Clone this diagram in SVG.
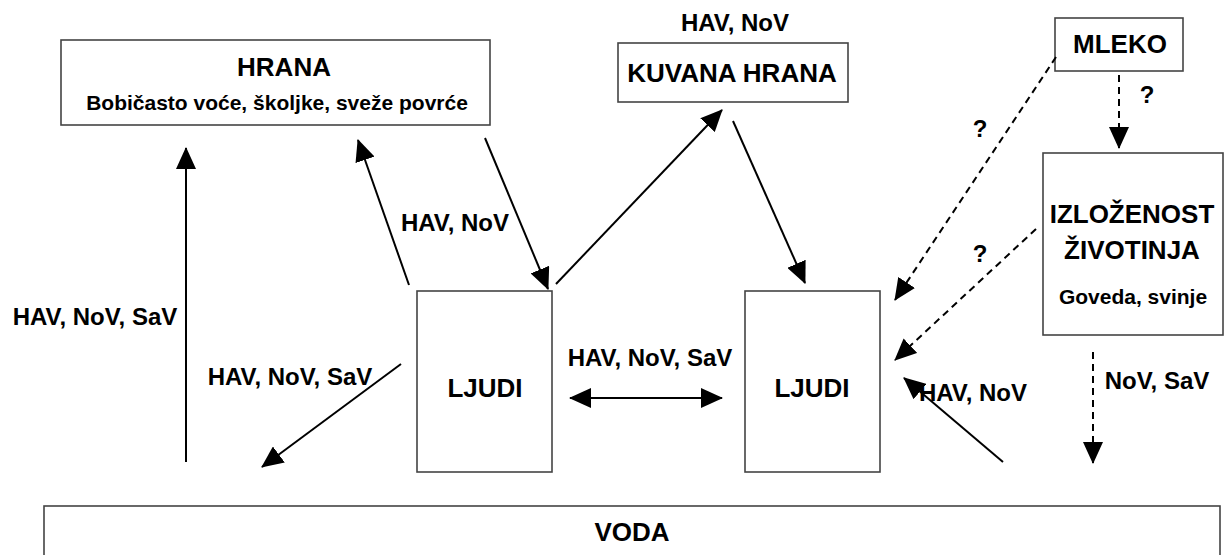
<svg xmlns="http://www.w3.org/2000/svg" width="1224" height="555" viewBox="0 0 1224 555">
<defs>
<marker id="ah" markerUnits="userSpaceOnUse" markerWidth="22" markerHeight="20" viewBox="0 0 22 20" refX="21" refY="10" orient="auto-start-reverse">
<path d="M0,0 L22,10 L0,20 Z" fill="#000"/>
</marker>
<style>
.box{fill:#fff;stroke:#444;stroke-width:1.6}
.t{font-family:"Liberation Sans",Arial,sans-serif;font-weight:bold;fill:#000;text-anchor:middle}
.title{font-size:26px}
.sub{font-size:21px}
.lbl{font-size:24px}
.c{stroke:#000;stroke-width:2;fill:none;marker-end:url(#ah)}
.d{stroke-dasharray:7,5}
</style>
</defs>
<rect width="1224" height="555" fill="#fff"/>
<g id="hrana">
<rect class="box" x="61" y="40" width="429" height="85"/>
<text class="t title" x="284" y="76">HRANA</text>
<text class="t sub" x="277" y="110">Bobičasto voće, školjke, sveže povrće</text>
</g>
<g id="kuvana">
<rect class="box" x="618" y="43" width="230" height="59"/>
<text class="t title" x="732" y="82">KUVANA HRANA</text>
</g>
<g id="mleko">
<rect class="box" x="1055" y="18" width="128" height="53"/>
<text class="t title" x="1120" y="53">MLEKO</text>
</g>
<g id="izlozenost">
<rect class="box" x="1043" y="153" width="180" height="182"/>
<text class="t title" x="1132" y="223">IZLOŽENOST</text>
<text class="t title" x="1132" y="259">ŽIVOTINJA</text>
<text class="t sub" x="1133" y="304">Goveda, svinje</text>
</g>
<g id="ljudi1">
<rect class="box" x="417" y="291" width="135" height="181"/>
<text class="t title" x="485" y="397">LJUDI</text>
</g>
<g id="ljudi2">
<rect class="box" x="745" y="291" width="135" height="181"/>
<text class="t title" x="812" y="397">LJUDI</text>
</g>
<g id="voda">
<rect class="box" x="44" y="506" width="1176" height="60"/>
<text class="t title" x="632" y="541">VODA</text>
</g>
<g id="connectors">
<line class="c" x1="186" y1="462" x2="186" y2="148"/>
<line class="c" x1="409" y1="285" x2="358" y2="140"/>
<line class="c" x1="485" y1="138" x2="548" y2="289"/>
<line class="c" x1="556" y1="284" x2="722" y2="110"/>
<line class="c" x1="733" y1="121" x2="805" y2="283"/>
<line class="c" x1="401" y1="364" x2="262" y2="467"/>
<line class="c" x1="570" y1="398" x2="722" y2="398" style="marker-start:url(#ah)"/>
<line class="c" x1="1003" y1="462" x2="904" y2="378"/>
<line class="c d" x1="1056" y1="57" x2="895" y2="300"/>
<line class="c d" x1="1119" y1="75" x2="1119" y2="148"/>
<line class="c d" x1="1036" y1="229" x2="895" y2="360"/>
<line class="c d" x1="1093" y1="352" x2="1093" y2="463"/>
<text class="t lbl" x="735" y="31">HAV, NoV</text>
<text class="t lbl" x="455" y="231">HAV, NoV</text>
<text class="t lbl" x="95" y="325">HAV, NoV, SaV</text>
<text class="t lbl" x="290" y="385">HAV, NoV, SaV</text>
<text class="t lbl" x="650" y="366">HAV, NoV, SaV</text>
<text class="t lbl" x="973" y="401">HAV, NoV</text>
<text class="t lbl" x="1157" y="389">NoV, SaV</text>
<text class="t lbl" x="1147" y="103">?</text>
<text class="t lbl" x="980" y="137">?</text>
<text class="t lbl" x="980" y="262">?</text>
</g>
</svg>
